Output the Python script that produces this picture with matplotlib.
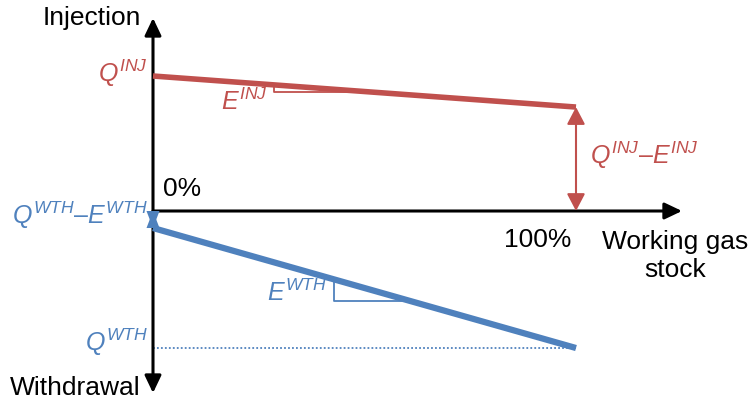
import numpy as np
import matplotlib
matplotlib.use("Agg")
import matplotlib.pyplot as plt

plt.rcParams["font.family"] = ["Liberation Sans", "DejaVu Sans"]
plt.rcParams["mathtext.fontset"] = "custom"
plt.rcParams["mathtext.it"] = "Liberation Sans:italic"
plt.rcParams["mathtext.rm"] = "Liberation Sans"

# data: storage stock (%) and injection / withdrawal capacity (relative units)
stock = [0, 100]
injection = [1.00, 0.77]       # Q_INJ at 0%, Q_INJ - E_INJ at 100%
withdrawal = [-0.126, -1.015]  # -(Q_WTH - E_WTH) at 0%, -Q_WTH at 100%

RED = "#C0504D"
BLUE = "#4F81BD"

# layout: pixels per unit, origin position in pixels
px_x = 4.23
px_y = 135.0
ox, oy = 153, 211
W, H = 750, 407

fig = plt.figure(figsize=(W / 100, H / 100), dpi=100)
ax = fig.add_axes([0, 0, 1, 1])
ax.set_xlim(-ox / px_x, (W - ox) / px_x)
ax.set_ylim(-(H - oy) / px_y, oy / px_y)
ax.axis("off")

# axes arrows
x_end = (682 - ox) / px_x
y_top = (oy - 18) / px_y
y_bot = -(393 - oy) / px_y
ax.annotate("", xy=(x_end, 0), xytext=(0, 0),
            arrowprops=dict(arrowstyle="-|>,head_length=1.05,head_width=0.5",
                            mutation_scale=10, lw=2.2, color="black",
                            shrinkA=0, shrinkB=0))
ax.annotate("", xy=(0, y_top), xytext=(0, y_bot),
            arrowprops=dict(arrowstyle="<|-|>,head_length=1.05,head_width=0.5",
                            mutation_scale=10, lw=2.2, color="black",
                            shrinkA=0, shrinkB=0))

# injection and withdrawal curves
ax.plot(stock, injection, color=RED, lw=4.0, solid_capstyle="butt", zorder=3)
ax.plot(stock, withdrawal, color=BLUE, lw=4.5, solid_capstyle="butt", zorder=3)

# Q_WTH dotted guide
ax.plot([stock[0], stock[1]], [withdrawal[1], withdrawal[1]], color=BLUE,
        lw=1.3, ls=(0, (1, 1.2)), zorder=2)

# Q_INJ - E_INJ double arrow
ax.annotate("", xy=(stock[1], injection[1]), xytext=(stock[1], 0),
            arrowprops=dict(arrowstyle="<|-|>,head_length=1.05,head_width=0.55",
                            mutation_scale=10, lw=1.5, color=RED,
                            shrinkA=0, shrinkB=0), zorder=4)

# Q_WTH - E_WTH: arrow too short, heads overlap into an hourglass
hw = 6.5 / px_x
y0, y1 = 0, withdrawal[0]
ax.fill([stock[0], stock[0] - hw, stock[0] + hw], [y0, y1, y1], color=BLUE, lw=0, zorder=4)
ax.fill([stock[0], stock[0] - hw, stock[0] + hw], [y1, y0, y0], color=BLUE, lw=0, zorder=4)

# slope triangles
def slope_tri(x0, x1, ys, color):
    y0 = np.interp(x0, stock, ys)
    y1 = np.interp(x1, stock, ys)
    ax.plot([x0, x0, x1], [y0, y1, y1], color=color, lw=1.3, zorder=2)

slope_tri(28.6, 50.0, injection, RED)
slope_tri(42.8, 61.2, withdrawal, BLUE)

# labels
def px(xp, yp):
    return (xp - ox) / px_x, (oy - yp) / px_y

fs = 19
fm = 18
ax.text(*px(141, 18), "Injection", fontsize=fs, ha="right", va="center")
ax.text(*px(141, 388), "Withdrawal", fontsize=fs, ha="right", va="center")
ax.text(*px(163, 189), "0%", fontsize=fs, ha="left", va="center")
ax.text(*px(571, 240), "100%", fontsize=fs, ha="right", va="center")
ax.text(*px(675, 256), "Working gas\nstock", fontsize=fs, ha="center",
        va="center", linespacing=1.2)

ax.text(*px(148, 73), r"$Q^{INJ}$", fontsize=fm, color=RED, ha="right", va="center")
ax.text(*px(268, 102), r"$E^{INJ}$", fontsize=fm, color=RED, ha="right", va="center")
ax.text(*px(590, 155), r"$Q^{INJ}$–$E^{INJ}$", fontsize=fm, color=RED,
        ha="left", va="center")
ax.text(*px(148, 215), r"$Q^{WTH}$–$E^{WTH}$", fontsize=fm, color=BLUE,
        ha="right", va="center")
ax.text(*px(327, 293), r"$E^{WTH}$", fontsize=fm, color=BLUE, ha="right", va="center")
ax.text(*px(148, 342), r"$Q^{WTH}$", fontsize=fm, color=BLUE, ha="right", va="center")

fig.savefig("out.png", dpi=100)
